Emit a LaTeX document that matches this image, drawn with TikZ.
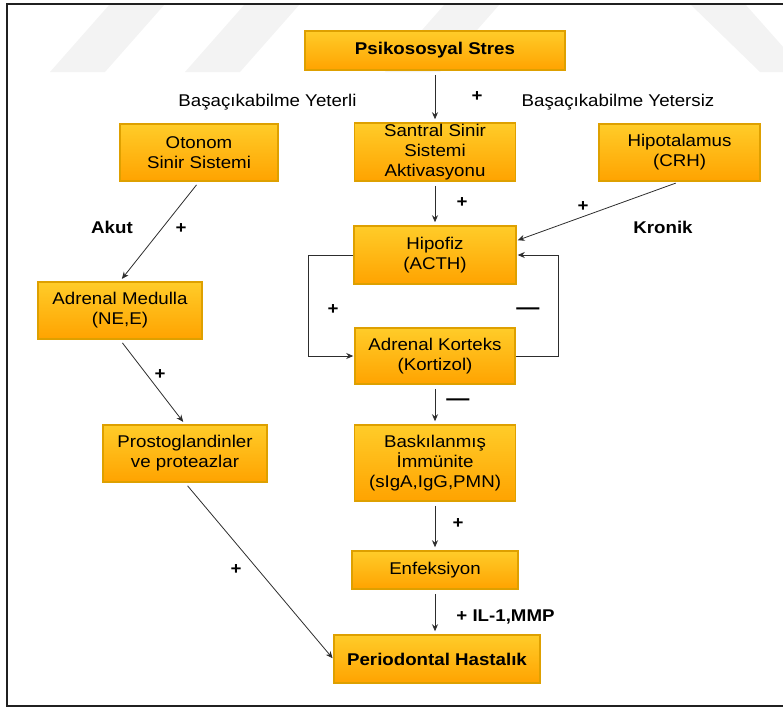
\documentclass[tikz,border=0pt]{standalone}
\usepackage{fontspec}
\setmainfont{Liberation Sans}[FakeStretch=1.1]
\usetikzlibrary{arrows.meta}
\definecolor{kutuust}{RGB}{255,204,41}
\definecolor{kutualt}{RGB}{255,163,0}
\definecolor{kenar}{RGB}{222,160,0}
\definecolor{cizgi}{RGB}{45,45,45}
\definecolor{filigran}{RGB}{243,243,243}
\newcommand\metin{\fontsize{17}{20}\selectfont}
\begin{document}
\begin{tikzpicture}[x=1pt,y=-1pt,
	kutu/.style={draw=kenar,line width=1.5pt,top color=kutuust,bottom color=kutualt,align=center,inner sep=0pt,font=\metin},
	boyut/.style 2 args={minimum width=#1,minimum height=#2},
	ok/.style={draw=cizgi,line width=0.8pt,-{Stealth[length=7pt,width=6pt]},shorten <=4pt,shorten >=3pt},
	isaret/.style={font=\bfseries\metin},
	yazi/.style={font=\metin}]
	\useasboundingbox (0,0) rectangle (783,709);
	\begin{scope}
	\clip (7,4) rectangle (783,706);
	\foreach \x in {50,185,385}
	\fill[filigran] (\x,72) -- ++(55,0) -- ++(60,-68) -- ++(-55,0) -- cycle;
	\fill[filigran] (690,4) -- (745,4) -- (800,66) -- (800,72) -- (760,72) -- cycle;
	\end{scope}
	\draw[line width=2pt,cizgi!70!black] (790,4) -- (7,4) -- (7,706) -- (790,706);
	\path
	(435,50.5) node[kutu,boyut={260}{39},font=\bfseries\metin] (stres) {Psikososyal Stres}
	(435,152) node[kutu,boyut={161}{58}] (santral) {Santral Sinir\\Sistemi\\Aktivasyonu}
	(199,152.5) node[kutu,boyut={158}{57}] (otonom) {Otonom\\Sinir Sistemi}
	(679.5,152.5) node[kutu,boyut={161}{57}] (hipotalamus) {Hipotalamus\\(CRH)}
	(435,255) node[kutu,boyut={162}{58}] (hipofiz) {Hipofiz\\(ACTH)}
	(120,310.5) node[kutu,boyut={164}{57}] (medulla) {Adrenal Medulla\\(NE,E)}
	(435,356) node[kutu,boyut={160}{56}] (korteks) {Adrenal Korteks\\(Kortizol)}
	(185,453.5) node[kutu,boyut={164}{57}] (prosto) {Prostoglandinler\\ve proteazlar}
	(435,463) node[kutu,boyut={161}{76}] (immun) {Baskılanmış\\İmmünite\\(sIgA,IgG,PMN)}
	(435,570) node[kutu,boyut={166}{38}] (enfeksiyon) {Enfeksiyon}
	(437,659) node[kutu,boyut={206}{48},font=\bfseries\metin] (periodontal) {Periodontal Hastalık};
	\draw[ok] (stres) -- (santral);
	\draw[ok] (santral) -- (hipofiz);
	\draw[ok,shorten >=1pt] (hipotalamus.south) -- (hipofiz.10);
	\draw[ok] (otonom.south) -- (medulla.north);
	\draw[ok] (medulla.south) -- (prosto.north);
	\draw[ok,shorten >=1pt] (prosto.south) -- (periodontal.west);
	\draw[ok,shorten <=0pt,shorten >=1pt] (hipofiz.west) -- ++(-45,0) |- (korteks.west);
	\draw[ok,shorten <=0pt,shorten >=1pt] (korteks.east) -- ++(43,0) |- (hipofiz.east);
	\draw[ok] (korteks) -- (immun);
	\draw[ok] (immun) -- (enfeksiyon);
	\draw[ok] (enfeksiyon.south) -- (enfeksiyon.south |- periodontal.north);
	\node[yazi] (yeterli) at (267.5,102) {Başaçıkabilme Yeterli};
	\node[yazi] (yetersiz) at (618,102) {Başaçıkabilme Yetersiz};
	\node[isaret] (akut) at (112,227) {Akut};
	\node[isaret] (kronik) at (663,227) {Kronik};
	\node[isaret] (il) at (505.5,617) {+ IL-1,MMP};
	\foreach \x/\y [count=\k] in {477/97,462/203,583/207,181/229,333/310,160/375,458/524,236/570}
	\node[isaret] (arti\k) at (\x,\y) {+};
	\foreach \x/\y [count=\k] in {528/311,458/402}
	\node[isaret,font=\bfseries\fontsize{21}{21}\selectfont] (eksi\k) at (\x,\y) {—};
\end{tikzpicture}
\end{document}
